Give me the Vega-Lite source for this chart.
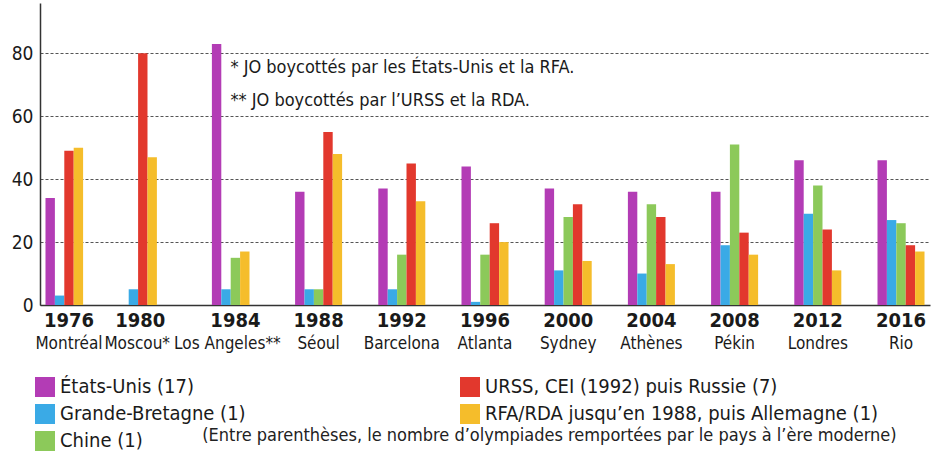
{
  "$schema": "https://vega.github.io/schema/vega-lite/v6.json",
  "autosize": "none",
  "width": 890,
  "height": 302,
  "padding": {"left": 40, "top": 3, "right": 8, "bottom": 146},
  "background": "white",
  "config": {
    "font": "DejaVu Sans Condensed, DejaVu Sans, sans-serif",
    "view": {"stroke": null}
  },
  "title": {
    "text": "(Entre parenthèses, le nombre d’olympiades remportées par le pays à l’ère moderne)",
    "orient": "bottom",
    "anchor": "start",
    "dx": 191,
    "offset": -24,
    "fontSize": 18,
    "fontWeight": "normal",
    "color": "#222"
  },
  "data": {
    "values": [
      {"annee": 1976, "pays": "États-Unis (17)", "or": 34},
      {"annee": 1976, "pays": "Grande-Bretagne (1)", "or": 3},
      {"annee": 1976, "pays": "URSS, CEI (1992) puis Russie (7)", "or": 49},
      {"annee": 1976, "pays": "RFA/RDA jusqu’en 1988, puis Allemagne (1)", "or": 50},
      {"annee": 1980, "pays": "Grande-Bretagne (1)", "or": 5},
      {"annee": 1980, "pays": "URSS, CEI (1992) puis Russie (7)", "or": 80},
      {"annee": 1980, "pays": "RFA/RDA jusqu’en 1988, puis Allemagne (1)", "or": 47},
      {"annee": 1984, "pays": "États-Unis (17)", "or": 83},
      {"annee": 1984, "pays": "Grande-Bretagne (1)", "or": 5},
      {"annee": 1984, "pays": "Chine (1)", "or": 15},
      {"annee": 1984, "pays": "RFA/RDA jusqu’en 1988, puis Allemagne (1)", "or": 17},
      {"annee": 1988, "pays": "États-Unis (17)", "or": 36},
      {"annee": 1988, "pays": "Grande-Bretagne (1)", "or": 5},
      {"annee": 1988, "pays": "Chine (1)", "or": 5},
      {"annee": 1988, "pays": "URSS, CEI (1992) puis Russie (7)", "or": 55},
      {"annee": 1988, "pays": "RFA/RDA jusqu’en 1988, puis Allemagne (1)", "or": 48},
      {"annee": 1992, "pays": "États-Unis (17)", "or": 37},
      {"annee": 1992, "pays": "Grande-Bretagne (1)", "or": 5},
      {"annee": 1992, "pays": "Chine (1)", "or": 16},
      {"annee": 1992, "pays": "URSS, CEI (1992) puis Russie (7)", "or": 45},
      {"annee": 1992, "pays": "RFA/RDA jusqu’en 1988, puis Allemagne (1)", "or": 33},
      {"annee": 1996, "pays": "États-Unis (17)", "or": 44},
      {"annee": 1996, "pays": "Grande-Bretagne (1)", "or": 1},
      {"annee": 1996, "pays": "Chine (1)", "or": 16},
      {"annee": 1996, "pays": "URSS, CEI (1992) puis Russie (7)", "or": 26},
      {"annee": 1996, "pays": "RFA/RDA jusqu’en 1988, puis Allemagne (1)", "or": 20},
      {"annee": 2000, "pays": "États-Unis (17)", "or": 37},
      {"annee": 2000, "pays": "Grande-Bretagne (1)", "or": 11},
      {"annee": 2000, "pays": "Chine (1)", "or": 28},
      {"annee": 2000, "pays": "URSS, CEI (1992) puis Russie (7)", "or": 32},
      {"annee": 2000, "pays": "RFA/RDA jusqu’en 1988, puis Allemagne (1)", "or": 14},
      {"annee": 2004, "pays": "États-Unis (17)", "or": 36},
      {"annee": 2004, "pays": "Grande-Bretagne (1)", "or": 10},
      {"annee": 2004, "pays": "Chine (1)", "or": 32},
      {"annee": 2004, "pays": "URSS, CEI (1992) puis Russie (7)", "or": 28},
      {"annee": 2004, "pays": "RFA/RDA jusqu’en 1988, puis Allemagne (1)", "or": 13},
      {"annee": 2008, "pays": "États-Unis (17)", "or": 36},
      {"annee": 2008, "pays": "Grande-Bretagne (1)", "or": 19},
      {"annee": 2008, "pays": "Chine (1)", "or": 51},
      {"annee": 2008, "pays": "URSS, CEI (1992) puis Russie (7)", "or": 23},
      {"annee": 2008, "pays": "RFA/RDA jusqu’en 1988, puis Allemagne (1)", "or": 16},
      {"annee": 2012, "pays": "États-Unis (17)", "or": 46},
      {"annee": 2012, "pays": "Grande-Bretagne (1)", "or": 29},
      {"annee": 2012, "pays": "Chine (1)", "or": 38},
      {"annee": 2012, "pays": "URSS, CEI (1992) puis Russie (7)", "or": 24},
      {"annee": 2012, "pays": "RFA/RDA jusqu’en 1988, puis Allemagne (1)", "or": 11},
      {"annee": 2016, "pays": "États-Unis (17)", "or": 46},
      {"annee": 2016, "pays": "Grande-Bretagne (1)", "or": 27},
      {"annee": 2016, "pays": "Chine (1)", "or": 26},
      {"annee": 2016, "pays": "URSS, CEI (1992) puis Russie (7)", "or": 19},
      {"annee": 2016, "pays": "RFA/RDA jusqu’en 1988, puis Allemagne (1)", "or": 17}
    ]
  },
  "layer": [
    {
      "transform": [
        {"window": [{"op": "row_number", "as": "rang"}], "groupby": ["annee"]}
      ],
      "mark": {"type": "bar", "stroke": null},
      "encoding": {
        "x": {
          "field": "annee",
          "type": "ordinal",
          "scale": {"paddingInner": 0.435, "paddingOuter": 0.066},
          "axis": {
            "orient": "bottom",
            "title": null,
            "labelAngle": 0,
            "labelFontSize": 20,
            "labelFontWeight": "bold",
            "labelColor": "#1a1a1a",
            "labelPadding": 5,
            "labelOffset": {"expr": "datum.value == 1980 ? -12 : 0"},
            "ticks": false,
            "domainColor": "#333",
            "domainWidth": 1.5,
            "grid": false
          }
        },
        "xOffset": {
          "field": "rang",
          "type": "ordinal",
          "scale": {"domain": [1, 2, 3, 4, 5], "paddingInner": 0, "paddingOuter": 0}
        },
        "y": {
          "field": "or",
          "type": "quantitative",
          "scale": {"domain": [0, 96], "nice": false},
          "axis": {
            "title": null,
            "values": [0, 10, 20, 30, 40, 50, 60, 70, 80, 90],
            "labelExpr": "datum.value % 20 == 0 ? datum.label : ''",
            "labelFontSize": 19,
            "labelColor": "#1a1a1a",
            "labelPadding": 7,
            "ticks": false,
            "domainColor": "#333",
            "domainWidth": 1.5,
            "grid": true,
            "gridColor": "#555",
            "gridDash": [3, 2],
            "gridWidth": 1
          }
        },
        "color": {
          "field": "pays",
          "type": "nominal",
          "scale": {
            "domain": ["États-Unis (17)", "Grande-Bretagne (1)", "Chine (1)", "URSS, CEI (1992) puis Russie (7)", "RFA/RDA jusqu’en 1988, puis Allemagne (1)"],
            "range": ["#B33CB5", "#3AAAE6", "#8CC95A", "#E2382D", "#F5BD2B"]
          },
          "legend": {
            "title": null,
            "orient": "none",
            "legendX": -5,
            "legendY": 374,
            "columns": 2,
            "columnPadding": 214,
            "rowPadding": 7,
            "symbolType": "square",
            "symbolSize": 400,
            "symbolStrokeWidth": 0,
            "labelFontSize": 20,
            "labelColor": "#1a1a1a",
            "labelOffset": 5,
            "labelLimit": 500
          }
        }
      }
    },
    {
      "mark": {"type": "rule", "strokeOpacity": 0},
      "encoding": {
        "x": {
          "field": "annee",
          "type": "ordinal",
          "axis": {
            "orient": "bottom",
            "title": null,
            "labelAngle": 0,
            "labelFontSize": 17,
            "labelColor": "#1a1a1a",
            "labelPadding": 30,
            "labelOffset": {"expr": "datum.value == 1980 ? -15 : datum.value == 1984 ? -8 : 0"},
            "labelExpr": "{'1976':'Montréal','1980':'Moscou*','1984':'Los Angeles**','1988':'Séoul','1992':'Barcelona','1996':'Atlanta','2000':'Sydney','2004':'Athènes','2008':'Pékin','2012':'Londres','2016':'Rio'}[datum.label]",
            "ticks": false,
            "domain": false,
            "grid": false
          }
        }
      }
    },
    {
      "data": {"values": [{"note": "* JO boycottés par les États-Unis et la RFA."}]},
      "mark": {"type": "text", "align": "left", "baseline": "middle", "fontSize": 18, "color": "#1a1a1a", "dx": -5},
      "encoding": {
        "x": {"datum": 1984, "type": "ordinal", "bandPosition": 0.5, "axis": null},
        "y": {"datum": 75.3, "type": "quantitative"},
        "text": {"field": "note"}
      }
    },
    {
      "data": {"values": [{"note": "** JO boycottés par l’URSS et la RDA."}]},
      "mark": {"type": "text", "align": "left", "baseline": "middle", "fontSize": 18, "color": "#1a1a1a", "dx": -5},
      "encoding": {
        "x": {"datum": 1984, "type": "ordinal", "bandPosition": 0.5, "axis": null},
        "y": {"datum": 64.8, "type": "quantitative"},
        "text": {"field": "note"}
      }
    }
  ],
  "resolve": {"axis": {"x": "independent"}}
}
